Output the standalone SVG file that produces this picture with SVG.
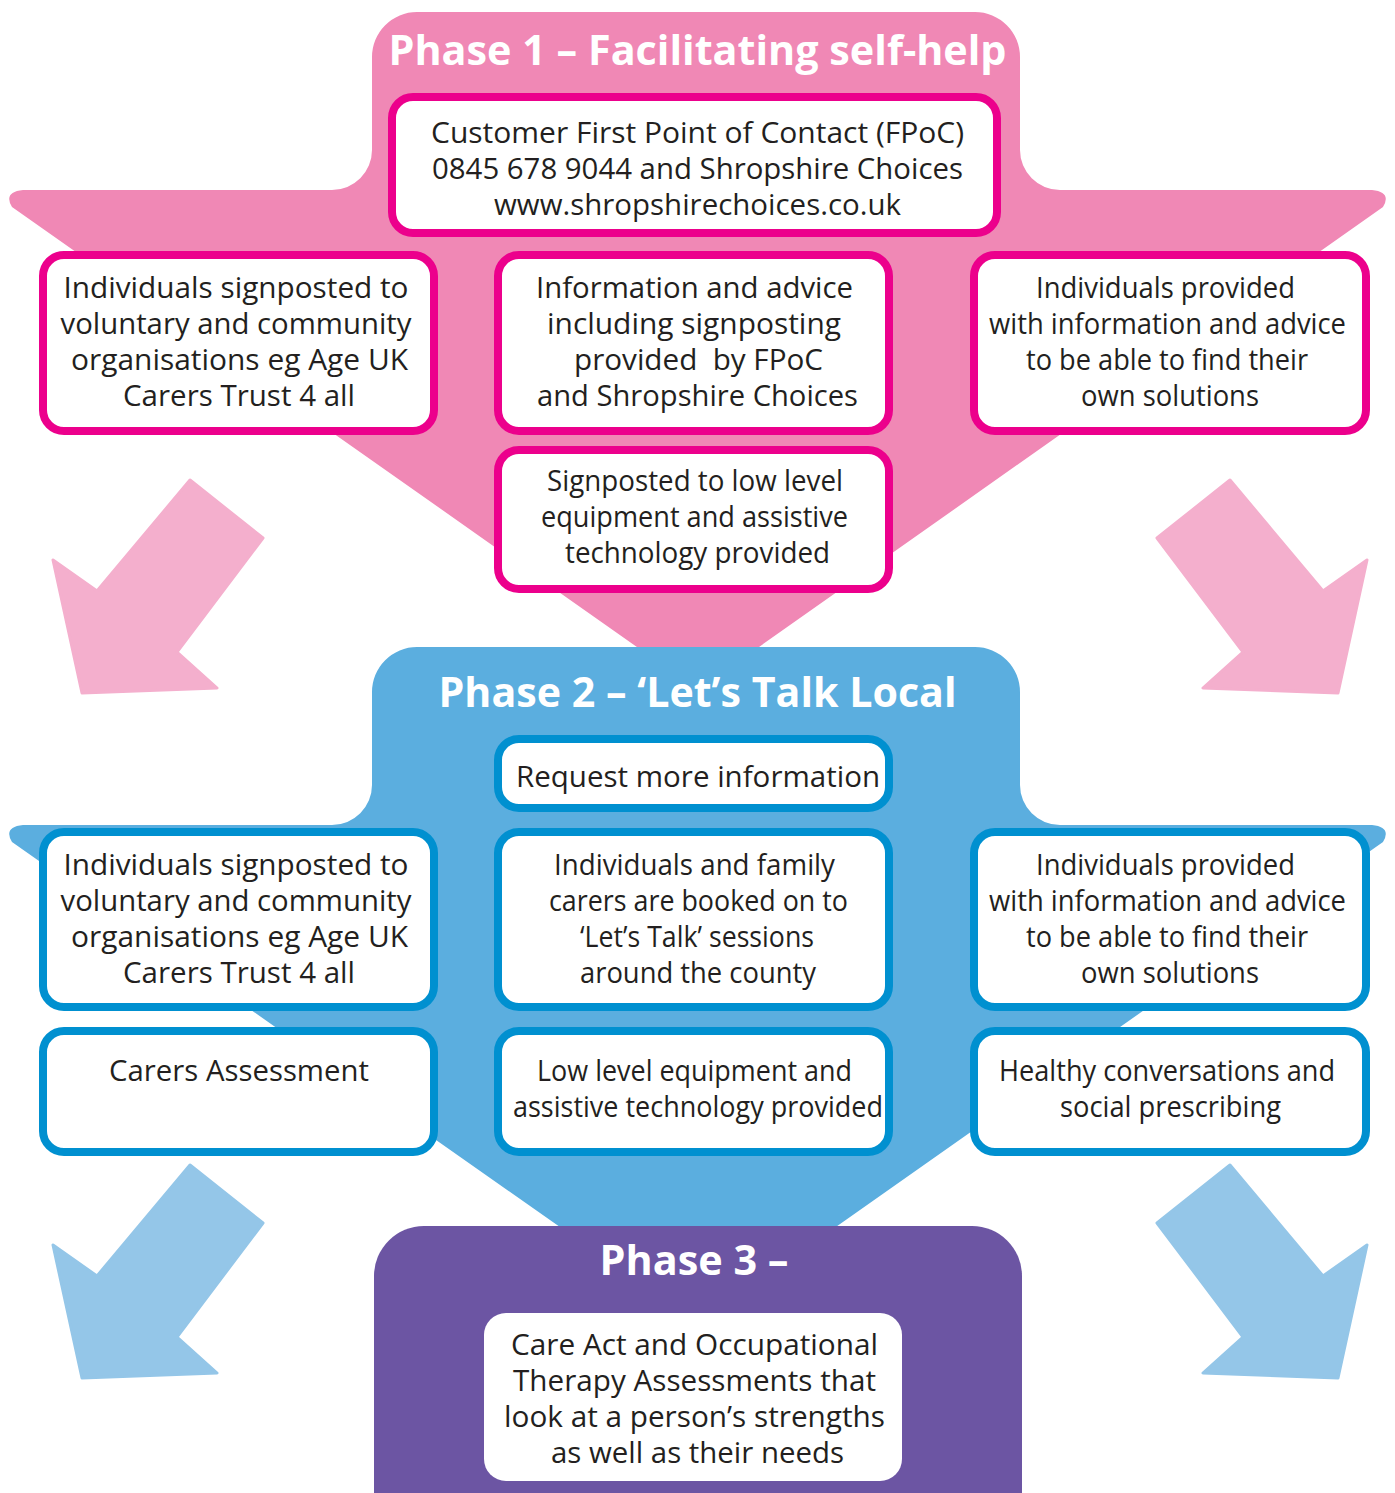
<svg xmlns="http://www.w3.org/2000/svg" width="1395" height="1493" viewBox="0 0 1395 1493">
<style>
.t{font-family:"Open Sans","Noto Sans",sans-serif;font-size:29px;fill:#231F20;text-anchor:middle}
.h{font-family:"Open Sans","Noto Sans",sans-serif;font-weight:700;font-size:41px;fill:#FFFFFF;text-anchor:middle}
.bp{fill:#FFFFFF;stroke:#EC008C;stroke-width:8}
.bb{fill:#FFFFFF;stroke:#0090D0;stroke-width:8}
.ap{fill:#F4AFCD;stroke:#F4AFCD;stroke-width:3;stroke-linejoin:round}
.ab{fill:#94C6E8;stroke:#94C6E8;stroke-width:3;stroke-linejoin:round}
</style>
<rect width="1395" height="1493" fill="#FFFFFF"/>
<g id="phase1">
<path fill="#F088B5" d="M417,12 H975 A45,45 0 0 1 1020,57 V150 A40,40 0 0 0 1060,190 H1372 Q1392,192 1383,207 L698,690 L12,207 Q3,192 23,190 H332 A40,40 0 0 0 372,150 V57 A45,45 0 0 1 417,12 Z"/>
<text class="h" x="697.5" y="65" textLength="618" lengthAdjust="spacingAndGlyphs">Phase 1 – Facilitating self-help</text>
</g>
<g id="p1-fpoc">
<rect class="bp" x="392" y="97" width="605" height="136" rx="21"/>
<text class="t" x="697.5" y="143" textLength="533" lengthAdjust="spacingAndGlyphs">Customer First Point of Contact (FPoC)</text>
<text class="t" x="697.5" y="179" textLength="531" lengthAdjust="spacingAndGlyphs">0845 678 9044 and Shropshire Choices</text>
<text class="t" x="697.5" y="215" textLength="407" lengthAdjust="spacingAndGlyphs">www.shropshirechoices.co.uk</text>
</g>
<g id="p1-left">
<rect class="bp" x="43" y="255" width="391" height="176" rx="21"/>
<text class="t" x="236" y="298" textLength="345" lengthAdjust="spacingAndGlyphs">Individuals signposted to</text>
<text class="t" x="236" y="334" textLength="351" lengthAdjust="spacingAndGlyphs">voluntary and community</text>
<text class="t" x="239.5" y="370" textLength="337" lengthAdjust="spacingAndGlyphs">organisations eg Age UK</text>
<text class="t" x="239" y="406" textLength="232" lengthAdjust="spacingAndGlyphs">Carers Trust 4 all</text>
</g>
<g id="p1-mid">
<rect class="bp" x="498" y="255" width="391" height="176" rx="21"/>
<text class="t" x="694.5" y="298" textLength="317" lengthAdjust="spacingAndGlyphs">Information and advice</text>
<text class="t" x="694" y="334" textLength="294" lengthAdjust="spacingAndGlyphs">including signposting</text>
<text class="t" x="698.5" y="370" textLength="249" lengthAdjust="spacingAndGlyphs" xml:space="preserve">provided  by FPoC</text>
<text class="t" x="697.5" y="406" textLength="321" lengthAdjust="spacingAndGlyphs">and Shropshire Choices</text>
</g>
<g id="p1-right">
<rect class="bp" x="974" y="255" width="392" height="176" rx="21"/>
<text class="t" x="1165.5" y="298" textLength="259" lengthAdjust="spacingAndGlyphs">Individuals provided</text>
<text class="t" x="1167.5" y="334" textLength="357" lengthAdjust="spacingAndGlyphs">with information and advice</text>
<text class="t" x="1167" y="370" textLength="282" lengthAdjust="spacingAndGlyphs">to be able to find their</text>
<text class="t" x="1170" y="406" textLength="178" lengthAdjust="spacingAndGlyphs">own solutions</text>
</g>
<g id="p1-equipment">
<rect class="bp" x="498" y="450" width="391" height="139" rx="21"/>
<text class="t" x="695" y="491" textLength="296" lengthAdjust="spacingAndGlyphs">Signposted to low level</text>
<text class="t" x="694.5" y="527" textLength="307" lengthAdjust="spacingAndGlyphs">equipment and assistive</text>
<text class="t" x="697.5" y="563" textLength="265" lengthAdjust="spacingAndGlyphs">technology provided</text>
</g>
<g id="phase2">
<path fill="#5BAEDF" d="M417,647 H975 A45,45 0 0 1 1020,692 V785 A40,40 0 0 0 1060,825 H1372 Q1392,827 1383,842 L698,1324 L12,842 Q3,827 23,825 H332 A40,40 0 0 0 372,785 V692 A45,45 0 0 1 417,647 Z"/>
<text class="h" x="697.5" y="707" textLength="518" lengthAdjust="spacingAndGlyphs">Phase 2 – ‘Let’s Talk Local</text>
</g>
<g id="p2-request">
<rect class="bb" x="498" y="739" width="391" height="69" rx="21"/>
<text class="t" x="698" y="787" textLength="364" lengthAdjust="spacingAndGlyphs">Request more information</text>
</g>
<g id="p2-left">
<rect class="bb" x="43" y="832" width="391" height="175" rx="21"/>
<text class="t" x="236" y="875" textLength="345" lengthAdjust="spacingAndGlyphs">Individuals signposted to</text>
<text class="t" x="236" y="911" textLength="351" lengthAdjust="spacingAndGlyphs">voluntary and community</text>
<text class="t" x="239.5" y="947" textLength="337" lengthAdjust="spacingAndGlyphs">organisations eg Age UK</text>
<text class="t" x="239" y="983" textLength="232" lengthAdjust="spacingAndGlyphs">Carers Trust 4 all</text>
</g>
<g id="p2-mid">
<rect class="bb" x="498" y="832" width="391" height="175" rx="21"/>
<text class="t" x="694.5" y="875" textLength="281" lengthAdjust="spacingAndGlyphs">Individuals and family</text>
<text class="t" x="698.5" y="911" textLength="299" lengthAdjust="spacingAndGlyphs">carers are booked on to</text>
<text class="t" x="697" y="947" textLength="234" lengthAdjust="spacingAndGlyphs">‘Let’s Talk’ sessions</text>
<text class="t" x="698" y="983" textLength="236" lengthAdjust="spacingAndGlyphs">around the county</text>
</g>
<g id="p2-right">
<rect class="bb" x="974" y="832" width="392" height="175" rx="21"/>
<text class="t" x="1165.5" y="875" textLength="259" lengthAdjust="spacingAndGlyphs">Individuals provided</text>
<text class="t" x="1167.5" y="911" textLength="357" lengthAdjust="spacingAndGlyphs">with information and advice</text>
<text class="t" x="1167" y="947" textLength="282" lengthAdjust="spacingAndGlyphs">to be able to find their</text>
<text class="t" x="1170" y="983" textLength="178" lengthAdjust="spacingAndGlyphs">own solutions</text>
</g>
<g id="p2-carers">
<rect class="bb" x="43" y="1031" width="391" height="121" rx="21"/>
<text class="t" x="239" y="1081" textLength="260" lengthAdjust="spacingAndGlyphs">Carers Assessment</text>
</g>
<g id="p2-equipment">
<rect class="bb" x="498" y="1031" width="391" height="121" rx="21"/>
<text class="t" x="694.5" y="1081" textLength="315" lengthAdjust="spacingAndGlyphs">Low level equipment and</text>
<text class="t" x="698" y="1117" textLength="370" lengthAdjust="spacingAndGlyphs">assistive technology provided</text>
</g>
<g id="p2-healthy">
<rect class="bb" x="974" y="1031" width="392" height="121" rx="21"/>
<text class="t" x="1167" y="1081" textLength="336" lengthAdjust="spacingAndGlyphs">Healthy conversations and</text>
<text class="t" x="1170.5" y="1117" textLength="221" lengthAdjust="spacingAndGlyphs">social prescribing</text>
</g>
<g id="phase3">
<rect x="374" y="1226" width="648" height="320" rx="50" fill="#6C55A3"/>
<text class="h" x="694" y="1275" textLength="189" lengthAdjust="spacingAndGlyphs">Phase 3 –</text>
</g>
<g id="p3-assessments">
<rect x="484" y="1313" width="418" height="168" rx="22" fill="#FFFFFF"/>
<text class="t" x="694.5" y="1355" textLength="367" lengthAdjust="spacingAndGlyphs">Care Act and Occupational</text>
<text class="t" x="694.5" y="1391" textLength="363" lengthAdjust="spacingAndGlyphs">Therapy Assessments that</text>
<text class="t" x="694.5" y="1427" textLength="381" lengthAdjust="spacingAndGlyphs">look at a person’s strengths</text>
<text class="t" x="697.5" y="1463" textLength="293" lengthAdjust="spacingAndGlyphs">as well as their needs</text>
</g>
<g id="connectors">
<polygon class="ap" points="190,480 263,538 177,652 217,688 82,693 53,560 97,591"/>
<polygon class="ap" points="1230,480 1157,538 1243,652 1203,688 1338,693 1367,560 1323,591"/>
<polygon class="ab" points="190,1165 263,1223 177,1337 217,1373 82,1378 53,1245 97,1276"/>
<polygon class="ab" points="1230,1165 1157,1223 1243,1337 1203,1373 1338,1378 1367,1245 1323,1276"/>
</g>
</svg>
